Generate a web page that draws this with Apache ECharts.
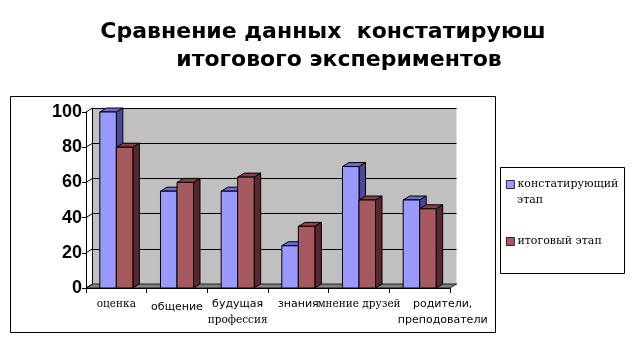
<!DOCTYPE html>
<html><head><meta charset="utf-8">
<script src="https://cdn.jsdelivr.net/npm/echarts@6/dist/echarts.min.js"></script>
<style>html,body{margin:0;padding:0;background:#fff}#c{width:638px;height:346px}</style>
</head><body><div id="c"></div>
<script>
const categories = ['оценка', 'общение', 'будущая\nпрофессия', 'знания', 'мнение друзей', 'родители,\nпреподователи'];
const seriesNames = ['констатирующий\nэтап', 'итоговый этап'];
const stage1 = [100, 55, 55, 24, 69, 50];
const stage2 = [80, 60, 63, 35, 50, 45];
const yTicks = [0, 20, 40, 60, 80, 100];

const DX = 6.5, DY = -4, BAR_FRAC = 0.272;
const styles = [
  {front: '#9999FF', top: '#6b6bd0', side: '#4a4a99'},
  {front: '#A65A5E', top: '#8c3c4a', side: '#5a2632'}
];
// per-label rich-text styles (font style mix and offsets seen in the reference)
const labelStyleKeys = [['s'], ['a2'], ['a', 's'], ['a'], ['s'], ['r', 'r']];

function cuboidRender(sIdx) {
  return function (params, api) {
    const i = api.value(0), v = api.value(1);
    const p = api.coord([i, v]);
    const b = api.coord([i, 0]);
    const bw = api.size([1, 0])[0] * BAR_FRAC;
    const x0 = sIdx === 0 ? p[0] - bw : p[0];
    const x1 = x0 + bw;
    const yT = p[1], yB = b[1];
    const st = styles[sIdx];
    const line = {stroke: '#000', lineWidth: 1};
    return {type: 'group', children: [
      {type: 'polygon', shape: {points: [[x1, yT], [x1 + DX, yT + DY], [x1 + DX, yB + DY], [x1, yB]]},
        style: Object.assign({fill: st.side}, line)},
      {type: 'polygon', shape: {points: [[x0, yT], [x1, yT], [x1 + DX, yT + DY], [x0 + DX, yT + DY]]},
        style: Object.assign({fill: st.top}, line)},
      {type: 'rect', shape: {x: x0, y: yT, width: bw, height: yB - yT},
        style: Object.assign({fill: st.front}, line)}
    ]};
  };
}

function wallsRender(params, api) {
  const nCat = categories.length;
  const halfW = api.size([1, 0])[0] / 2;
  const l = api.coord([0, 0])[0] - halfW;
  const r = api.coord([nCat - 1, 0])[0] + halfW;
  const y0 = api.coord([0, 0])[1];
  const children = [
    {type: 'polygon', shape: {points: [[l, y0], [r, y0], [r + DX, y0 + DY], [l + DX, y0 + DY]]},
      style: {fill: '#808080', stroke: '#000', lineWidth: 0.8}}
  ];
  yTicks.forEach(t => {
    const y = api.coord([0, t])[1];
    children.push({type: 'line', shape: {x1: l, y1: y, x2: l + DX, y2: y + DY}, style: {stroke: '#000', lineWidth: 1}});
  });
  children.push({type: 'line', shape: {x1: l + DX, y1: api.coord([0, 0])[1] + DY, x2: l + DX, y2: api.coord([0, 100])[1] + DY}, style: {stroke: '#000', lineWidth: 1}});
  return {type: 'group', children: children};
}

const GRID = {left: 86, top: 112, width: 364, height: 176};
const TITLE_FONT = {fontFamily: 'DejaVu Sans', fontWeight: 'bold', fontSize: 22, color: '#000'};
const LEGEND_FONT = {fontFamily: 'DejaVu Serif', fontSize: 11, color: '#000'};
const chart = echarts.init(document.getElementById('c'));
chart.setOption({
  animation: false,
  title: [
    {text: 'Сравнение данных  констатируюш', left: 323, top: 21, padding: 0, textAlign: 'center', textStyle: TITLE_FONT},
    {text: 'итогового экспериментов', left: 339, top: 49, padding: 0, textAlign: 'center', textStyle: TITLE_FONT}
  ],
  graphic: [
    {type: 'rect', shape: {x: 10.5, y: 96.5, width: 485, height: 236}, style: {fill: 'none', stroke: '#000', lineWidth: 1}, z: -1},
    {type: 'rect', shape: {x: 500.5, y: 167.5, width: 124, height: 106}, style: {fill: '#fff', stroke: '#000', lineWidth: 1}, z: -1},
    {type: 'text', left: 517, top: 195, style: Object.assign({text: seriesNames[0].split('\n')[1], fill: '#000'}, LEGEND_FONT)}
  ],
  legend: {
    orient: 'vertical', left: 506, top: 176, padding: 0,
    itemWidth: 8, itemHeight: 8, itemGap: 40, icon: 'rect',
    data: seriesNames,
    formatter: function (name) { return name.split('\n')[0]; },
    itemStyle: {borderColor: '#000', borderWidth: 0.8},
    textStyle: Object.assign({lineHeight: 17, padding: [0, 0, 0, -2]}, LEGEND_FONT)
  },
  grid: [
    Object.assign({show: false}, GRID),
    {left: GRID.left + DX, top: GRID.top + DY, width: GRID.width, height: GRID.height,
      show: true, backgroundColor: '#C0C0C0', borderWidth: 0}
  ],
  xAxis: [
    {type: 'category', gridIndex: 0, data: categories,
      axisLine: {lineStyle: {color: '#000', width: 1}},
      axisTick: {show: true, interval: 0, length: 5, lineStyle: {color: '#000'}},
      axisLabel: {interval: 0, margin: 8, color: '#000',
        formatter: function (val, idx) {
          const keys = labelStyleKeys[idx];
          return val.split('\n').map((ln, k) => '{' + keys[k] + '|' + ln + '}').join('\n');
        },
        rich: {
          s: {fontFamily: 'DejaVu Serif', fontSize: 10.5, color: '#000', lineHeight: 16},
          a: {fontFamily: 'DejaVu Sans', fontSize: 11, color: '#000', lineHeight: 16},
          a2: {fontFamily: 'DejaVu Sans', fontSize: 11, color: '#000', lineHeight: 16, padding: [7, 0, 0, 0]},
          r: {fontFamily: 'DejaVu Sans', fontSize: 11, color: '#000', lineHeight: 16, padding: [0, 0, 0, 46]}
        }}},
    {type: 'category', gridIndex: 1, data: categories, show: false}
  ],
  yAxis: [
    {type: 'value', gridIndex: 0, min: 0, max: 100, interval: 20,
      axisLine: {show: true, lineStyle: {color: '#000'}},
      axisTick: {show: true, length: 4, lineStyle: {color: '#000'}},
      splitLine: {show: false},
      axisLabel: {margin: 4, color: '#000', fontFamily: 'Liberation Sans', fontWeight: 'bold', fontSize: 18}},
    {type: 'value', gridIndex: 1, min: 0, max: 100, interval: 20,
      axisLine: {show: false}, axisTick: {show: false}, axisLabel: {show: false},
      splitLine: {show: true, lineStyle: {color: '#000', width: 1}}}
  ],
  series: [
    {type: 'custom', name: 'walls', xAxisIndex: 0, yAxisIndex: 0, z: 1,
      data: [[0, 0]], renderItem: wallsRender, silent: true},
    {type: 'custom', name: seriesNames[0], xAxisIndex: 0, yAxisIndex: 0, z: 2,
      itemStyle: {color: styles[0].front},
      encode: {x: 0, y: 1},
      data: stage1.map((v, i) => [i, v]), renderItem: cuboidRender(0)},
    {type: 'custom', name: seriesNames[1], xAxisIndex: 0, yAxisIndex: 0, z: 3,
      itemStyle: {color: styles[1].front},
      encode: {x: 0, y: 1},
      data: stage2.map((v, i) => [i, v]), renderItem: cuboidRender(1)}
  ]
});
</script></body></html>
